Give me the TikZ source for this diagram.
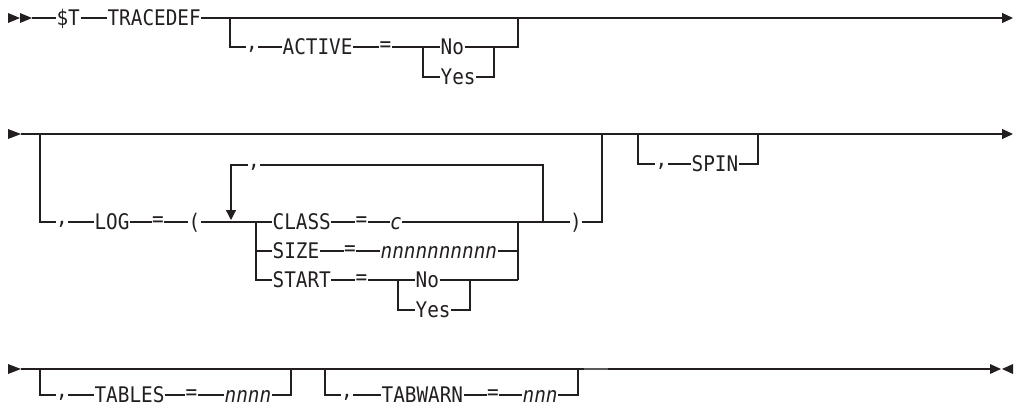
\documentclass[tikz,border=0pt]{standalone}
\usepackage{fontspec}
\newfontfamily\mono[FakeStretch=0.9]{DejaVu Sans Mono}
\usetikzlibrary{arrows.meta}
\definecolor{ink}{HTML}{231F20}
\begin{document}
\begin{tikzpicture}[x=1pt,y=-1pt, line width=1.2pt, draw=ink, color=ink,
  tx/.style={inner xsep=0pt, inner ysep=0pt, text height=15.7pt, text depth=0pt, anchor=west, font={\mono\fontsize{21.5}{24}\selectfont}},
  ti/.style={tx, font={\mono\itshape\fontsize{21.5}{24}\selectfont}},
  commanode/.style={tx, anchor=center},
  eqnode/.style={tx, anchor=center},
  endtip/.style={-{Triangle[length=11pt,width=10pt]}},
  downtip/.style={-{Triangle[length=10pt,width=10pt]}}
]
\useasboundingbox (0,0) rectangle (1015,408);

% ---------- Row 1 ----------
\fill (8,13) -- (20,18) -- (8,23) -- cycle;
\fill (20,13) -- (32,18) -- (20,23) -- cycle;
\coordinate (s1) at (32,18);
\coordinate (e1) at (1013,18);
\node[tx] (T) at (56,18) {\$T};
\node[tx] (TR) at (107,18) {TRACEDEF};
\draw (s1) -- (T.west);
\draw (T.east) -- (TR.west);
\draw[endtip] (TR.east) -- (e1);

\coordinate (a0) at (230,18);
\coordinate (a1) at (230,47);
\node[commanode] (c1) at (252,47) {\raisebox{5pt}{,}};
\node[tx] (ACT) at (282,47) {ACTIVE};
\node[eqnode] (q1e) at (385.5,47) {\raisebox{3pt}{=}};
\node[tx] (no1) at (440,47) {No};
\node[tx] (yes1) at (440,77) {Yes};
\coordinate (n1l) at (423,47);
\coordinate (y1l) at (423,77);
\coordinate (n1r) at (494,47);
\coordinate (y1r) at (494,77);
\coordinate (a2) at (518,47);
\coordinate (a3) at (518,18);
\draw (a0) -- (a1) -- (c1.west);
\draw (c1.east) -- (ACT.west);
\draw (ACT.east) -- (q1e.west);
\draw (q1e.east) -- (no1.west);
\draw (n1l) -- (y1l) -- (yes1.west);
\draw (yes1.east) -- (y1r) -- (n1r);
\draw (no1.east) -- (a2) -- (a3);

% ---------- Row 2 ----------
\fill (8,129) -- (21,134) -- (8,139) -- cycle;
\coordinate (s2) at (21,134);
\coordinate (e2) at (1013,134);
\draw[endtip] (s2) -- (e2);

\coordinate (b0) at (40,134);
\coordinate (b1) at (40,222);
\node[commanode] (c2) at (62,222) {\raisebox{5pt}{,}};
\node[tx] (LOG) at (94,222) {LOG};
\node[eqnode] (q2e) at (158,222) {\raisebox{3pt}{=}};
\node[eqnode] (lp) at (194.5,222) {(};
\node[tx] (CLASS) at (272,222) {CLASS};
\node[eqnode] (q3e) at (361.5,222) {\raisebox{3pt}{=}};
\node[ti, anchor=center] (cc) at (396,222) {c};
\node[eqnode] (rp) at (576,222) {)};
\coordinate (b2) at (602,222);
\coordinate (b3) at (602,134);
\draw (b0) -- (b1) -- (c2.west);
\draw (c2.east) -- (LOG.west);
\draw (LOG.east) -- (q2e.west);
\draw (q2e.east) -- (lp.west);
\draw (lp.east) -- (CLASS.west);
\draw (CLASS.east) -- (q3e.west);
\draw (q3e.east) -- (cc.west);
\draw (cc.east) -- (rp.west);
\draw (rp.east) -- (b2) -- (b3);

% repeat loop
\coordinate (L0) at (231,165);
\coordinate (L1) at (231,220);
\node[commanode] (c3) at (254,165) {\raisebox{5pt}{,}};
\coordinate (L2) at (543,165);
\coordinate (L3) at (543,222);
\draw[downtip] (c3.west) -- (L0) -- (L1);
\draw (c3.east) -- (L2) -- (L3);

% choices
\coordinate (k0) at (256,222);
\coordinate (k1) at (256,251);
\coordinate (k2) at (256,280);
\coordinate (k3) at (518,222);
\coordinate (k4) at (518,251);
\coordinate (k5) at (518,280);
\node[tx] (SIZE) at (272,251) {SIZE};
\node[eqnode] (q4e) at (350,251) {\raisebox{3pt}{=}};
\node[ti] (N10) at (380,251) {nnnnnnnnnn};
\node[tx] (START) at (272,280) {START};
\node[eqnode] (q5e) at (361.5,280) {\raisebox{3pt}{=}};
\node[tx] (no2) at (415,280) {No};
\node[tx] (yes2) at (415,310) {Yes};
\coordinate (m0) at (398,280);
\coordinate (m1) at (398,310);
\coordinate (m2) at (470,280);
\coordinate (m3) at (470,310);
\draw (k0) -- (k2) -- (START.west);
\draw (k1) -- (SIZE.west);
\draw (SIZE.east) -- (q4e.west);
\draw (q4e.east) -- (N10.west);
\draw (N10.east) -- (k4);
\draw (k3) -- (k5);
\draw (START.east) -- (q5e.west);
\draw (q5e.east) -- (no2.west);
\draw (m0) -- (m1) -- (yes2.west);
\draw (yes2.east) -- (m3) -- (m2);
\draw (no2.east) -- (k5);

% SPIN
\coordinate (p0) at (638,134);
\coordinate (p1) at (638,164);
\node[commanode] (c4) at (661.5,164) {\raisebox{5pt}{,}};
\node[tx] (SPIN) at (691,164) {SPIN};
\coordinate (p2) at (758,164);
\coordinate (p3) at (758,134);
\draw (p0) -- (p1) -- (c4.west);
\draw (c4.east) -- (SPIN.west);
\draw (SPIN.east) -- (p2) -- (p3);

% ---------- Row 3 ----------
\fill (8,364) -- (21,369) -- (8,374) -- cycle;
\coordinate (s3) at (21,369);
\coordinate (e3) at (990,369);
\draw (s3) -- (e3);
\fill (990,364) -- (1001,369) -- (990,374) -- cycle;
\fill (1013,364) -- (1002,369) -- (1013,374) -- cycle;

\coordinate (t0) at (40,369);
\coordinate (t1) at (40,395);
\node[commanode] (c5) at (62,395) {\raisebox{5pt}{,}};
\node[tx] (TAB) at (94,395) {TABLES};
\node[eqnode] (q6e) at (191.5,395) {\raisebox{3pt}{=}};
\node[ti] (N4) at (224,395) {nnnn};
\coordinate (t2) at (291,395);
\coordinate (t3) at (291,369);
\draw (t0) -- (t1) -- (c5.west);
\draw (c5.east) -- (TAB.west);
\draw (TAB.east) -- (q6e.west);
\draw (q6e.east) -- (N4.west);
\draw (N4.east) -- (t2) -- (t3);

\coordinate (r0) at (325,369);
\coordinate (r1) at (325,395);
\node[commanode] (c6) at (347,395) {\raisebox{5pt}{,}};
\node[tx] (TW) at (381,395) {TABWARN};
\node[eqnode] (q7e) at (493,395) {\raisebox{3pt}{=}};
\node[ti] (N3) at (522,395) {nnn};
\coordinate (r2) at (578,395);
\coordinate (r3) at (578,369);
\draw (r0) -- (r1) -- (c6.west);
\draw (c6.east) -- (TW.west);
\draw (TW.east) -- (q7e.west);
\draw (q7e.east) -- (N3.west);
\draw (N3.east) -- (r2) -- (r3);
\draw[line width=1.8pt, black!65] (584,368.6) -- (608,368.6);
\end{tikzpicture}
\end{document}
